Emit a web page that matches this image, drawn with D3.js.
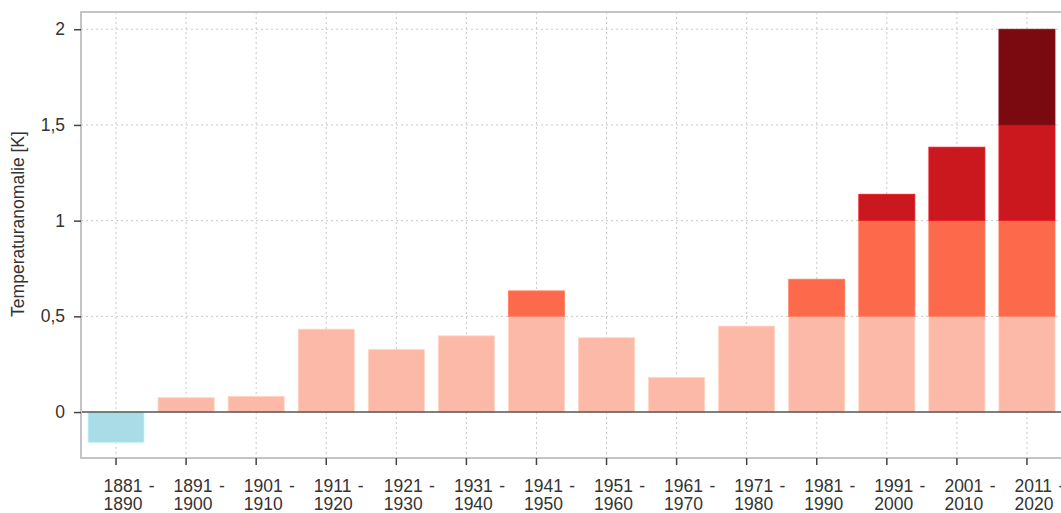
<!DOCTYPE html>
<html>
<head>
<meta charset="utf-8">
<script src="https://cdn.jsdelivr.net/npm/d3@7"></script>
<style>
  body { margin: 0; background: #fff; }
  text { font-family: "Liberation Sans", Arial, sans-serif; fill: #333; }
</style>
</head>
<body>
<div id="chart"></div>
<script>
const decades = ["1881 - 1890", "1891 - 1900", "1901 - 1910", "1911 - 1920", "1921 - 1930",
  "1931 - 1940", "1941 - 1950", "1951 - 1960", "1961 - 1970", "1971 - 1980",
  "1981 - 1990", "1991 - 2000", "2001 - 2010", "2011 - 2020"];
const anomaly = [-0.16, 0.075, 0.082, 0.433, 0.327, 0.398, 0.633, 0.388, 0.181, 0.449, 0.694, 1.138, 1.384, 2.0];
const bandEdges = [0, 0.5, 1, 1.5, 2];
const bandColors = ["#fcb9a7", "#fc6a4b", "#cb181e", "#7a0a10"];
const coldColor = "#a9dce6";
const yTicks = [0, 0.5, 1, 1.5, 2];

const W = 1061, H = 513;
const margin = { top: 12, right: -1, bottom: 55, left: 81 };
const width = W - margin.left - margin.right,
      height = H - margin.top - margin.bottom;

const svg = d3.select("#chart").append("svg")
  .attr("width", W)
  .attr("height", H)
  .append("g")
  .attr("transform", `translate(${margin.left},${margin.top})`);

const x = d3.scaleBand().domain(decades).range([0, width])
  .paddingInner(0.2).paddingOuter(0.1);
const y = d3.scaleLinear().domain([-0.24, 2.09]).range([height, 0]);

// grid
svg.append("g").selectAll("line")
  .data(yTicks.slice(1))
  .enter().append("line")
  .attr("x1", 0).attr("x2", width)
  .attr("y1", d => y(d)).attr("y2", d => y(d))
  .attr("stroke", "#c8c8c8").attr("stroke-dasharray", "2,3");
svg.append("g").selectAll("line")
  .data(decades)
  .enter().append("line")
  .attr("x1", d => x(d) + x.bandwidth() / 2).attr("x2", d => x(d) + x.bandwidth() / 2)
  .attr("y1", 0).attr("y2", height)
  .attr("stroke", "#c8c8c8").attr("stroke-dasharray", "2,3");

// split each value into 0.5 K bands
const segments = [];
decades.forEach((d, i) => {
  const v = anomaly[i];
  if (v < 0) {
    segments.push({ decade: d, y0: v, y1: 0, color: coldColor });
    return;
  }
  for (let b = 0; b < bandColors.length; b++) {
    const lo = bandEdges[b], hi = Math.min(bandEdges[b + 1], v);
    if (hi > lo) segments.push({ decade: d, y0: lo, y1: hi, color: bandColors[b] });
  }
});

svg.append("g").selectAll("rect")
  .data(segments)
  .enter().append("rect")
  .attr("x", d => x(d.decade))
  .attr("y", d => y(d.y1))
  .attr("width", x.bandwidth())
  .attr("height", d => y(d.y0) - y(d.y1))
  .attr("fill", d => d.color)
  .attr("stroke", d => d3.color(d.color).brighter(0.4))
  .attr("stroke-width", 0.8);

// zero line
svg.append("line")
  .attr("x1", 0).attr("x2", width)
  .attr("y1", y(0)).attr("y2", y(0))
  .attr("stroke", "#555").attr("stroke-width", 1.5);

// frame
svg.append("path")
  .attr("d", `M${width + 5},0H0V${height}H${width + 5}`)
  .attr("fill", "none").attr("stroke", "#c4c4c4").attr("stroke-width", 2);

// y axis
const fmt = d => String(d).replace(".", ",");
const yAxis = svg.append("g")
  .call(d3.axisLeft(y).tickValues(yTicks).tickFormat(fmt).tickSize(7).tickPadding(9));
yAxis.select(".domain").remove();
yAxis.selectAll(".tick line").attr("stroke", "#444").attr("stroke-width", 1.5);
yAxis.selectAll(".tick text").style("font-size", "17.5px").attr("fill", "#333");

// x axis, two-line labels starting just left of the tick
const xAxis = svg.append("g")
  .attr("transform", `translate(0,${height})`)
  .call(d3.axisBottom(x).tickSize(7).tickFormat(""));
xAxis.select(".domain").remove();
xAxis.selectAll(".tick line").attr("stroke", "#444").attr("stroke-width", 1.5);
xAxis.selectAll(".tick").append("text")
  .attr("text-anchor", "start")
  .style("font-size", "17.5px")
  .style("word-spacing", "1.5px")
  .attr("fill", "#333")
  .selectAll("tspan")
  .data(d => { const p = d.split(" - "); return [p[0] + " -", p[1]]; })
  .enter().append("tspan")
  .attr("x", -12.5)
  .attr("y", (d, i) => 34 + i * 18)
  .text(d => d);

// Label Y
svg.append("text")
  .attr("x", -212)
  .attr("y", -57)
  .attr("transform", "rotate(-90)")
  .attr("text-anchor", "middle")
  .style("font-size", "17.5px")
  .text("Temperaturanomalie [K]");
</script>
</body>
</html>
